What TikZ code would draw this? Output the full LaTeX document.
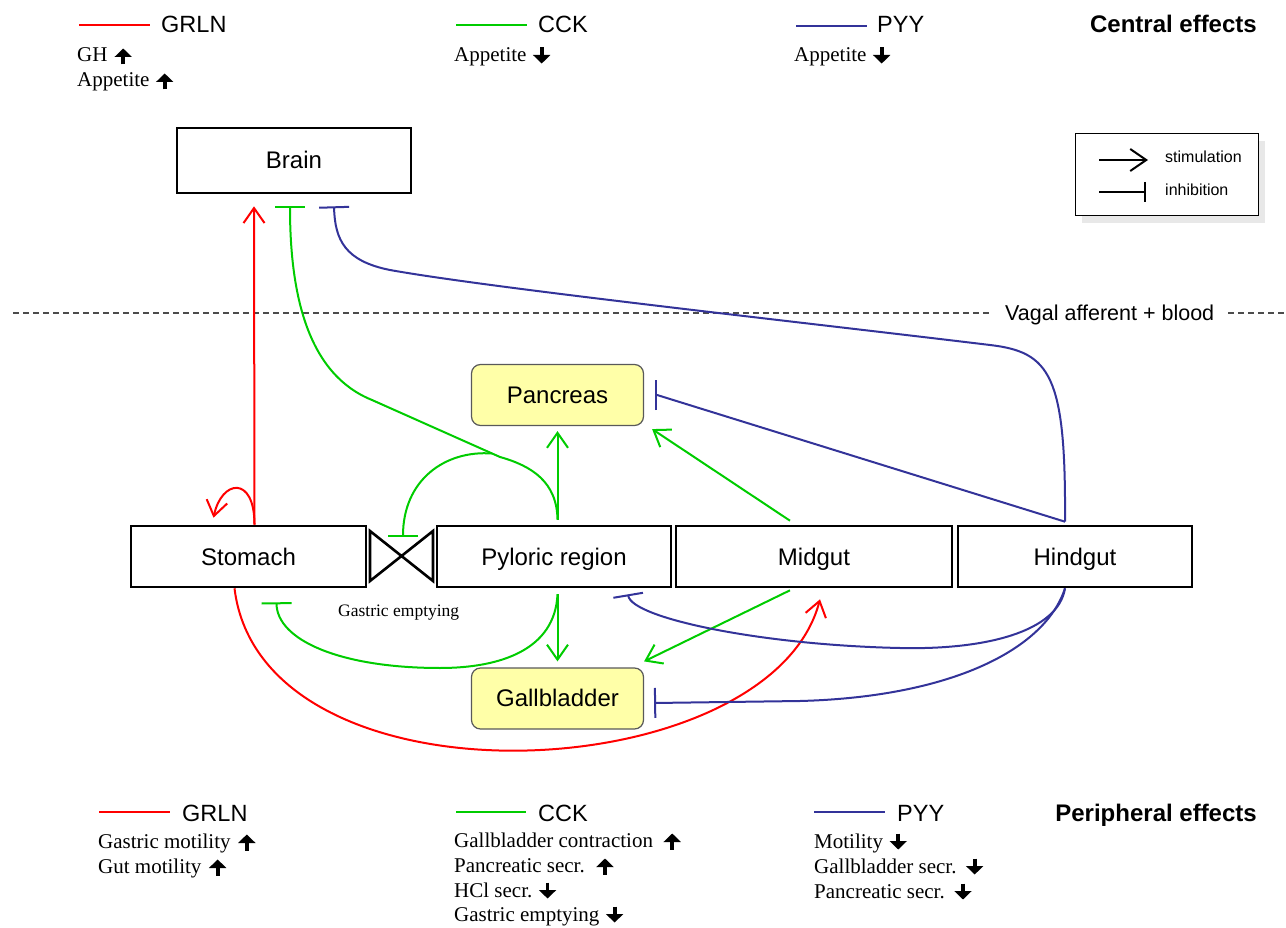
\documentclass[tikz,border=0pt]{standalone}
\usepackage{fontspec}
\setmainfont{Liberation Sans}
\newfontfamily\serf{Liberation Serif}
\usetikzlibrary{arrows.meta}
\definecolor{cckg}{RGB}{0,204,0}
\definecolor{pyyb}{RGB}{51,51,153}
\definecolor{orgfill}{RGB}{255,255,168}
\tikzset{
 box/.style={draw=black, line width=2.6pt, minimum height=61pt, inner sep=0pt, text height=19.5pt, text depth=2.5pt, font=\fontsize{24}{28}\selectfont},
 organ/.style={draw=black!65, line width=1.2pt, rounded corners=9pt, fill=orgfill, minimum width=172pt, minimum height=61pt, inner sep=0pt, text height=19pt, text depth=3pt, font=\fontsize{24}{28}\selectfont},
 title/.style={anchor=base west, inner sep=0pt, font=\fontsize{23.5}{28}\selectfont},
 eff/.style={anchor=base west, inner sep=0pt, font=\serf\fontsize{21}{25}\selectfont},
 heading/.style={anchor=base east, inner sep=0pt, font=\bfseries\fontsize{24}{28}\selectfont},
 stim/.style={-{Straight Barb[length=15pt,width=21pt]}},
 inh/.style={-{Bar[width=30pt]}},
 grln/.style={draw=red, line width=2pt},
 cck/.style={draw=cckg, line width=2pt},
 pyy/.style={draw=pyyb, line width=2pt},
 legline/.style={line width=2.4pt},
 dline/.style={draw=black!70, line width=1.2pt, dash pattern=on 6pt off 4pt},
 effarr/.style={draw=black, line width=3.8pt, -{Triangle[length=8.5pt,width=17pt]}},
}
\newcommand\ua[2]{\draw[effarr] ([xshift=#2pt,yshift=-2.5pt]#1.base east) -- ++(0,-16);}
\newcommand\da[2]{\draw[effarr] ([xshift=#2pt,yshift=14.5pt]#1.base east) -- ++(0,16);}
\begin{document}
\begin{tikzpicture}[x=1pt,y=-1pt]
\useasboundingbox (0,0) rectangle (1286,928);

% ---------- top legend ----------
\draw[legline, red] (79,25) -- (150,25);
\draw[legline, cckg] (456,25) -- (527,25);
\draw[legline, pyyb] (796,26) -- (867,26);
\node[title] (tgrln) at (161,33) {GRLN};
\node[title] (tcck) at (538,33) {CCK};
\node[title] (tpyy) at (877,33) {PYY};
\node[heading] (central) at (1257,33) {Central effects};
\node[eff] (e1) at (77,62) {GH};
\node[eff] (e2) at (77,87) {Appetite};
\node[eff] (e3) at (454,62) {Appetite};
\node[eff] (e4) at (794,62) {Appetite};
\ua{e1}{15.5} \ua{e2}{15} \da{e3}{15} \da{e4}{15}

% ---------- key box ----------
\fill[gray!18] (1082,141) rectangle (1265,223);
\draw[fill=white, line width=1pt] (1075,134) rectangle (1258,216);
\coordinate (ls1) at (1099,160);
\coordinate (ls2) at (1148,160);
\coordinate (li1) at (1099,192);
\coordinate (li2) at (1146,192);
\draw[line width=2pt, -{Straight Barb[length=16pt,width=22pt]}] (ls1) -- (ls2);
\draw[line width=2pt, -{Bar[width=20pt]}] (li1) -- (li2);
\node[anchor=base west, inner sep=0pt, font=\fontsize{16}{19}\selectfont] (lst) at (1165,163) {stimulation};
\node[anchor=base west, inner sep=0pt, font=\fontsize{16}{19}\selectfont] (lin) at (1165,196) {inhibition};

% ---------- dashed separator ----------
\node[anchor=base west, inner sep=0pt, font=\fontsize{21.5}{25}\selectfont] (vagal) at (1005,320) {Vagal afferent + blood};
\coordinate (dl) at (13,313);
\coordinate (dr) at (1286,313);
\coordinate (vl) at (vagal.west |- dl);
\coordinate (vr) at (vagal.east |- dl);
\draw[dline] (dl) -- ([xshift=-14pt]vl);
\draw[dline] ([xshift=14pt]vr) -- (dr);

% ---------- nodes ----------
\node[box, minimum width=234pt, minimum height=65pt] (brain) at (294,160.5) {Brain};
\node[box, minimum width=235pt] (stomach) at (248.5,556.5) {Stomach};
\node[box, minimum width=234pt] (pyloric) at (554,556.5) {Pyloric region};
\node[box, minimum width=276pt] (midgut) at (814,556.5) {Midgut};
\node[box, minimum width=234pt] (hindgut) at (1075,556.5) {Hindgut};
\node[organ] (pancreas) at (557.5,395) {Pancreas};
\node[organ] (gallbladder) at (557.5,698.5) {Gallbladder};

% valve
\coordinate (valve) at (401.5,556);
\draw[line width=2.6pt, line join=miter] (370,531) -- (433,581) -- (433,531) -- (370,581) -- cycle;
\node[anchor=base west, inner sep=0pt, font=\serf\fontsize{17.5}{20}\selectfont] (ge) at (338,616) {Gastric emptying};
\coordinate (valveT) at (403,537);

% ---------- GRLN (red) ----------
\draw[grln, stim] ([xshift=6pt]stomach.north) -- ([xshift=-40pt,yshift=-12pt]brain.south);
\draw[grln, stim] ([xshift=6pt]stomach.north) .. controls +(0,-50) and +(8,-38) .. ([xshift=-35pt,yshift=7pt]stomach.north);
\draw[grln, stim] ([xshift=-14pt]stomach.south) .. controls (262,815) and (770,790) .. ([xshift=6pt,yshift=-11pt]midgut.south);

% ---------- CCK (green) ----------
\coordinate (pyT) at ([xshift=3.5pt,yshift=5pt]pyloric.north);
\coordinate (pyB) at ([xshift=3.5pt,yshift=-6pt]pyloric.south);
\coordinate (branch) at (492,453.5);
\draw[cck, stim] (pyT) -- ([yshift=-5pt]pancreas.south);
\draw[cck, inh] (pyT) .. controls (557,482) and (532,466) .. (500,457) -- (372,400) .. controls (310,375) and (290,300) .. ([xshift=-4pt,yshift=-12pt]brain.south);
\draw[cck, inh] (branch) .. controls (445,450) and (403,480) .. (valveT);
\draw[cck, stim] (pyB) -- ([yshift=6pt]gallbladder.north);
\draw[cck, inh] (pyB) .. controls (555,650) and (500,668) .. (440,668) .. controls (340,668) and (277,640) .. ([xshift=28pt,yshift=-14pt]stomach.south);
\draw[cck, stim] ([xshift=-24pt,yshift=4pt]midgut.north) -- ([xshift=8pt,yshift=-3pt]pancreas.south east);
\draw[cck, stim] ([xshift=-24pt,yshift=-2pt]midgut.south) -- ([yshift=6pt]gallbladder.north east);

% ---------- PYY (blue) ----------
\coordinate (hgT) at ([xshift=-10pt,yshift=3pt]hindgut.north);
\coordinate (hgB) at ([xshift=-10pt]hindgut.south);
\draw[pyy, inh] (hgT) .. controls (1066,375) and (1050,352) .. (990,345) .. controls (800,322) and (490,288) .. (390,270) .. controls (345,261) and (335,240) .. ([xshift=40pt,yshift=-12pt]brain.south);
\draw[pyy, inh] (hgT) -- ([xshift=13pt]pancreas.east) -- ([xshift=11pt]pancreas.east);
\draw[pyy, inh] (hgB) .. controls (1058,632) and (985,650) .. (900,648) .. controls (760,645) and (632,618) .. ([xshift=74pt,yshift=-6pt]pyloric.south);
\draw[pyy, inh] (hgB) .. controls (1045,650) and (950,697) .. (800,701) -- ([xshift=10pt,yshift=-4.5pt]gallbladder.east);

% ---------- bottom legend ----------
\draw[legline, red] (99,812) -- (170,812);
\draw[legline, cckg] (456,812) -- (526,812);
\draw[legline, pyyb] (814,812) -- (885,812);
\node[title] (bgrln) at (182,821) {GRLN};
\node[title] (bcck) at (538,821) {CCK};
\node[title] (bpyy) at (897,821) {PYY};
\node[heading] (peripheral) at (1257,821) {Peripheral effects};
\node[eff] (p1) at (98,848) {Gastric motility};
\node[eff] (p2) at (98,873) {Gut motility};
\node[eff] (p3) at (454,847) {Gallbladder contraction};
\node[eff] (p4) at (454,872) {Pancreatic secr.};
\node[eff] (p5) at (454,897) {HCl secr.};
\node[eff] (p6) at (454,921) {Gastric emptying};
\node[eff] (p7) at (814,848) {Motility};
\node[eff] (p8) at (814,873) {Gallbladder secr.};
\node[eff] (p9) at (814,898) {Pancreatic secr.};
\ua{p1}{16} \ua{p2}{16} \ua{p3}{19} \ua{p4}{20}
\da{p5}{15} \da{p6}{15} \da{p7}{15} \da{p8}{18} \da{p9}{18}
\end{tikzpicture}
\end{document}
